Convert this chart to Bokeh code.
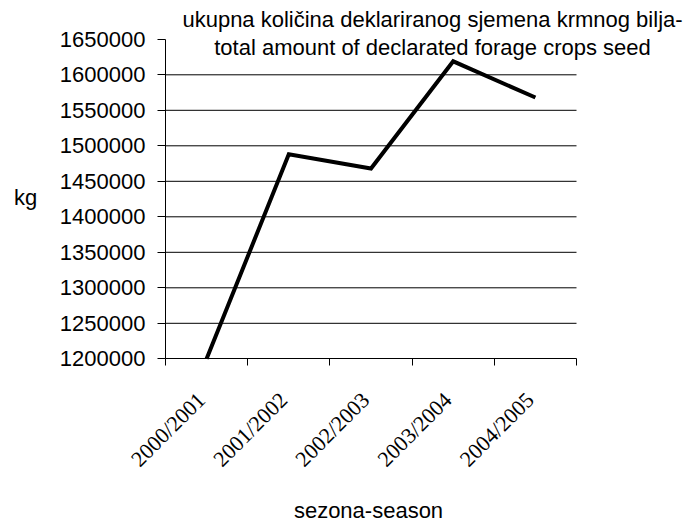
import math
from bokeh.plotting import figure
from bokeh.models import Range1d, FixedTicker, Label, LabelSet, ColumnDataSource
from bokeh.embed import file_html
from bokeh.resources import INLINE

seasons = ["2000/2001", "2001/2002", "2002/2003", "2003/2004", "2004/2005"]
amount_kg = [1200000, 1488000, 1468000, 1619000, 1568000]
y_ticks = [1200000, 1250000, 1300000, 1350000, 1400000, 1450000, 1500000, 1550000, 1600000, 1650000]
title_lines = ["ukupna količina deklariranog sjemena krmnog bilja-",
               "total amount of declarated forage crops seed"]
x_label = "sezona-season"
y_label = "kg"

FONT = "Liberation Sans"
FS = "22px"

# layout (pixels)
W, H = 690, 523
AX_X = 165.0          # px of the y axis line
AX_Y = 358.3          # px of the x axis line (from top)
CAT_W = 82.2          # px per category
PX_PER_TICK = 35.5    # px per y tick step

n = len(seasons)
xs = [i + 0.5 for i in range(n)]
y0, y1 = y_ticks[0], y_ticks[-1]
step = y_ticks[1] - y_ticks[0]
x_start = -AX_X / CAT_W
x_end = (W - AX_X) / CAT_W
y_start = y0 - (H - AX_Y) / PX_PER_TICK * step
y_end = y0 + AX_Y / PX_PER_TICK * step

p = figure(width=W, height=H, output_backend="svg", toolbar_location=None,
           x_range=Range1d(x_start, x_end), y_range=Range1d(y_start, y_end),
           min_border=0)
p.outline_line_color = None
p.background_fill_color = "white"
p.border_fill_color = "white"
p.xgrid.grid_line_color = None
p.ygrid.grid_line_color = None

# horizontal gridlines limited to the plot area
grid_vals = y_ticks[1:-1]
p.segment(x0=[0] * len(grid_vals), x1=[n] * len(grid_vals), y0=grid_vals, y1=grid_vals,
          line_color="black", line_width=1)

p.line(xs, amount_kg, line_color="black", line_width=4, line_join="miter")

# y axis
p.yaxis.fixed_location = 0
p.yaxis.bounds = (y0, y1)
p.yaxis.ticker = FixedTicker(ticks=y_ticks)
p.yaxis.formatter.use_scientific = False
p.yaxis.major_tick_out = 8
p.yaxis.major_tick_in = 0
p.yaxis.minor_tick_line_color = None
p.yaxis.axis_line_color = "black"
p.yaxis.major_tick_line_color = "black"
p.yaxis.major_label_text_font = FONT
p.yaxis.major_label_text_font_size = FS
p.yaxis.major_label_text_color = "black"
p.yaxis.major_label_standoff = 12

# x axis: only the category boundary ticks; labels are drawn rotated below
p.xaxis.fixed_location = y0
p.xaxis.bounds = (0, n)
p.xaxis.ticker = FixedTicker(ticks=[], minor_ticks=list(range(n + 1)))
p.xaxis.major_tick_line_color = None
p.xaxis.minor_tick_out = 7
p.xaxis.minor_tick_in = 0
p.xaxis.minor_tick_line_color = "black"
p.xaxis.axis_line_color = "black"

cat_src = ColumnDataSource(dict(x=xs, y=[y0] * n, text=seasons))
p.add_layout(LabelSet(x="x", y="y", text="text", source=cat_src, x_offset=-5.4, y_offset=-37.3,
                      angle=math.pi / 4, text_align="right", text_baseline="middle",
                      text_font=FONT, text_font_size=FS, text_color="black"))

def add_text(t, cx, middle):
    p.add_layout(Label(x=cx, y=H - middle, x_units="screen", y_units="screen",
                       text=t, text_align="center", text_baseline="middle",
                       text_font=FONT, text_font_size=FS, text_color="black"))

# title lines (overlapping the plot area)
add_text(title_lines[0], 432, 19.0)
add_text(title_lines[1], 432, 47.3)
add_text(y_label, 25, 197.3)
add_text(x_label, 368, 510.0)

open("out.html", "w").write(file_html(p, INLINE))
